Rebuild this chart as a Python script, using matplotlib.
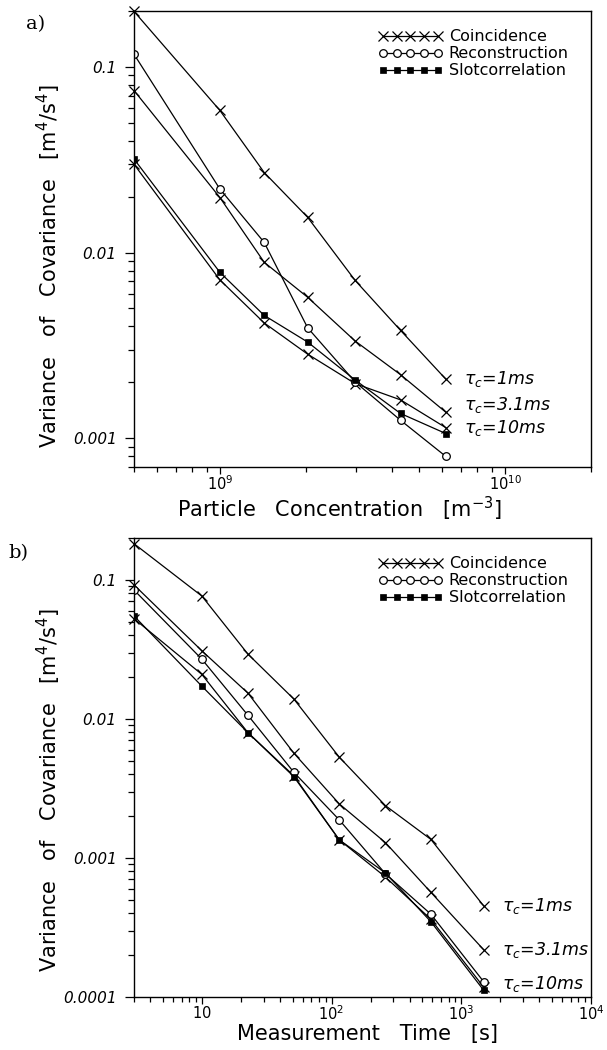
import matplotlib.pyplot as plt
from matplotlib.ticker import LogLocator, NullFormatter

plt.rcParams['font.family'] = 'DejaVu Sans'
plt.rcParams['mathtext.fontset'] = 'dejavusans'

# a) variance vs particle concentration [m^-3]
conc = [5e8, 1e9, 1.43e9, 2.03e9, 2.98e9, 4.3e9, 6.2e9]
conc_coinc_1ms = [0.199, 0.0583, 0.027, 0.0155, 0.00708, 0.00381, 0.00208]
conc_coinc_3ms = [0.0746, 0.0198, 0.00887, 0.00575, 0.00334, 0.0022, 0.00138]
conc_coinc_10ms = [0.0299, 0.00713, 0.00418, 0.00284, 0.00197, 0.00161, 0.00114]
conc_recon = [0.117, 0.022, 0.01135, 0.00394, 0.00201, 0.00125, 0.000798]
conc_slot = [0.0319, 0.00783, 0.00459, 0.0033, 0.00206, 0.00136, 0.00106]

# b) variance vs measurement time [s]
mtime = [3, 10, 22.7, 51.2, 114.6, 260, 583, 1486]
time_coinc_1ms = [0.182, 0.0765, 0.0292, 0.0139, 0.00531, 0.00238, 0.00136, 0.000453]
time_coinc_3ms = [0.092, 0.0309, 0.0153, 0.00567, 0.00245, 0.00129, 0.000566, 0.000219]
time_coinc_10ms = [0.0526, 0.0209, 0.00795, 0.0039, 0.00135, 0.00073, 0.000362, 0.000118]
time_recon = [0.0845, 0.0269, 0.0106, 0.00413, 0.00188, 0.00077, 0.000394, 0.000129]
time_slot = [0.055, 0.0172, 0.00795, 0.00384, 0.00135, 0.00078, 0.000348, 0.000112]

legend_labels = ['Coincidence', 'Reconstruction', 'Slotcorrelation']
tau_labels = [r'$\tau_c$=1ms', r'$\tau_c$=3.1ms', r'$\tau_c$=10ms']

conc_xticks = [1e9, 1e10]
conc_xticklabels = [r'$\mathit{10^{9}}$', r'$\mathit{10^{10}}$']
conc_yticks = [0.1, 0.01, 0.001]
conc_yticklabels = ['0.1', '0.01', '0.001']

time_xticks = [10, 100, 1000, 10000]
time_xticklabels = [r'$\mathit{10}$', r'$\mathit{10^{2}}$', r'$\mathit{10^{3}}$', r'$\mathit{10^{4}}$']
time_yticks = [0.1, 0.01, 0.001, 0.0001]
time_yticklabels = ['0.1', '0.01', '0.001', '0.0001']

ylabel = r'Variance   of   Covariance   [m$^4$/s$^4$]'


def draw_panel(ax, x, coinc, recon, slot, xlim, ylim, xticks, xticklabels,
               yticks, yticklabels, xlabel, tau_dy, xlabel_pos, ylabel_y):
    lines = []
    for c in coinc:
        l, = ax.plot(x, c, color='black', lw=0.9, marker='x', ms=6.5, mew=0.9,
                     clip_on=False)
        lines.append(l)
    lr, = ax.plot(x, recon, color='black', lw=0.9, marker='o', ms=5.5,
                  mfc='white', mew=0.9)
    ls, = ax.plot(x, slot, color='black', lw=0.9, marker='s', ms=5,
                  mfc='black', mew=0.5)

    ax.set_xscale('log')
    ax.set_yscale('log')
    ax.set_xlim(xlim)
    ax.set_ylim(ylim)

    ax.set_xticks(xticks)
    ax.set_xticklabels(xticklabels)
    ax.set_yticks(yticks)
    ax.set_yticklabels(yticklabels, style='italic')
    ax.xaxis.set_minor_locator(LogLocator(base=10, subs=range(2, 10)))
    ax.yaxis.set_minor_locator(LogLocator(base=10, subs=range(2, 10)))
    ax.xaxis.set_minor_formatter(NullFormatter())
    ax.yaxis.set_minor_formatter(NullFormatter())

    ax.tick_params(axis='y', which='major', direction='out', length=6.5,
                   width=0.9, labelsize=11, pad=6)
    ax.tick_params(axis='y', which='minor', direction='out', length=4.3,
                   width=0.9)
    ax.tick_params(axis='x', which='major', direction='out', length=5,
                   width=0.9, labelsize=10.5, pad=0.5)
    ax.tick_params(axis='x', which='minor', direction='out', length=3.6,
                   width=0.9)
    for sp in ax.spines.values():
        sp.set_linewidth(1.0)

    ax.set_ylabel(ylabel, fontsize=15)
    ax.yaxis.set_label_coords(-0.155, ylabel_y)
    ax.set_xlabel(xlabel, fontsize=15)
    ax.xaxis.set_label_coords(*xlabel_pos)

    ax.legend([lines[0], lr, ls], legend_labels, loc='upper left',
              bbox_to_anchor=(0.535, 0.96), frameon=False, numpoints=5,
              handlelength=4.0, handletextpad=0.4, labelspacing=0.12,
              borderpad=0, borderaxespad=0, fontsize=11.5)

    for i, c in enumerate(coinc):
        ax.annotate(tau_labels[i], xy=(x[-1], c[-1]), xytext=(13, tau_dy[i]),
                    textcoords='offset points', ha='left', va='center',
                    fontsize=12.5, style='italic')


fig = plt.figure(figsize=(6.07, 10.5), dpi=100)
ax1 = fig.add_axes([0.2208, 0.5552, 0.7528, 0.4343])
ax2 = fig.add_axes([0.2208, 0.0505, 0.7528, 0.4371])

draw_panel(ax1, conc, [conc_coinc_1ms, conc_coinc_3ms, conc_coinc_10ms],
           conc_recon, conc_slot, (5e8, 2e10), (7e-4, 0.2),
           conc_xticks, conc_xticklabels, conc_yticks, conc_yticklabels,
           r'Particle   Concentration   [m$^{-3}$]', [0, 5, 0],
           (0.45, -0.06), 0.44)
draw_panel(ax2, mtime, [time_coinc_1ms, time_coinc_3ms, time_coinc_10ms],
           time_recon, time_slot, (3, 1e4), (1e-4, 0.2),
           time_xticks, time_xticklabels, time_yticks, time_yticklabels,
           r'Measurement   Time   [s]', [0, 0, 2],
           (0.51, -0.058), 0.45)

fig.text(26 / 607, 1 - 24 / 1050, 'a)', family='DejaVu Serif', fontsize=14,
         va='center', ha='left')
fig.text(8 / 607, 1 - 553 / 1050, 'b)', family='DejaVu Serif', fontsize=14,
         va='center', ha='left')

fig.savefig('out.png', dpi=100)
